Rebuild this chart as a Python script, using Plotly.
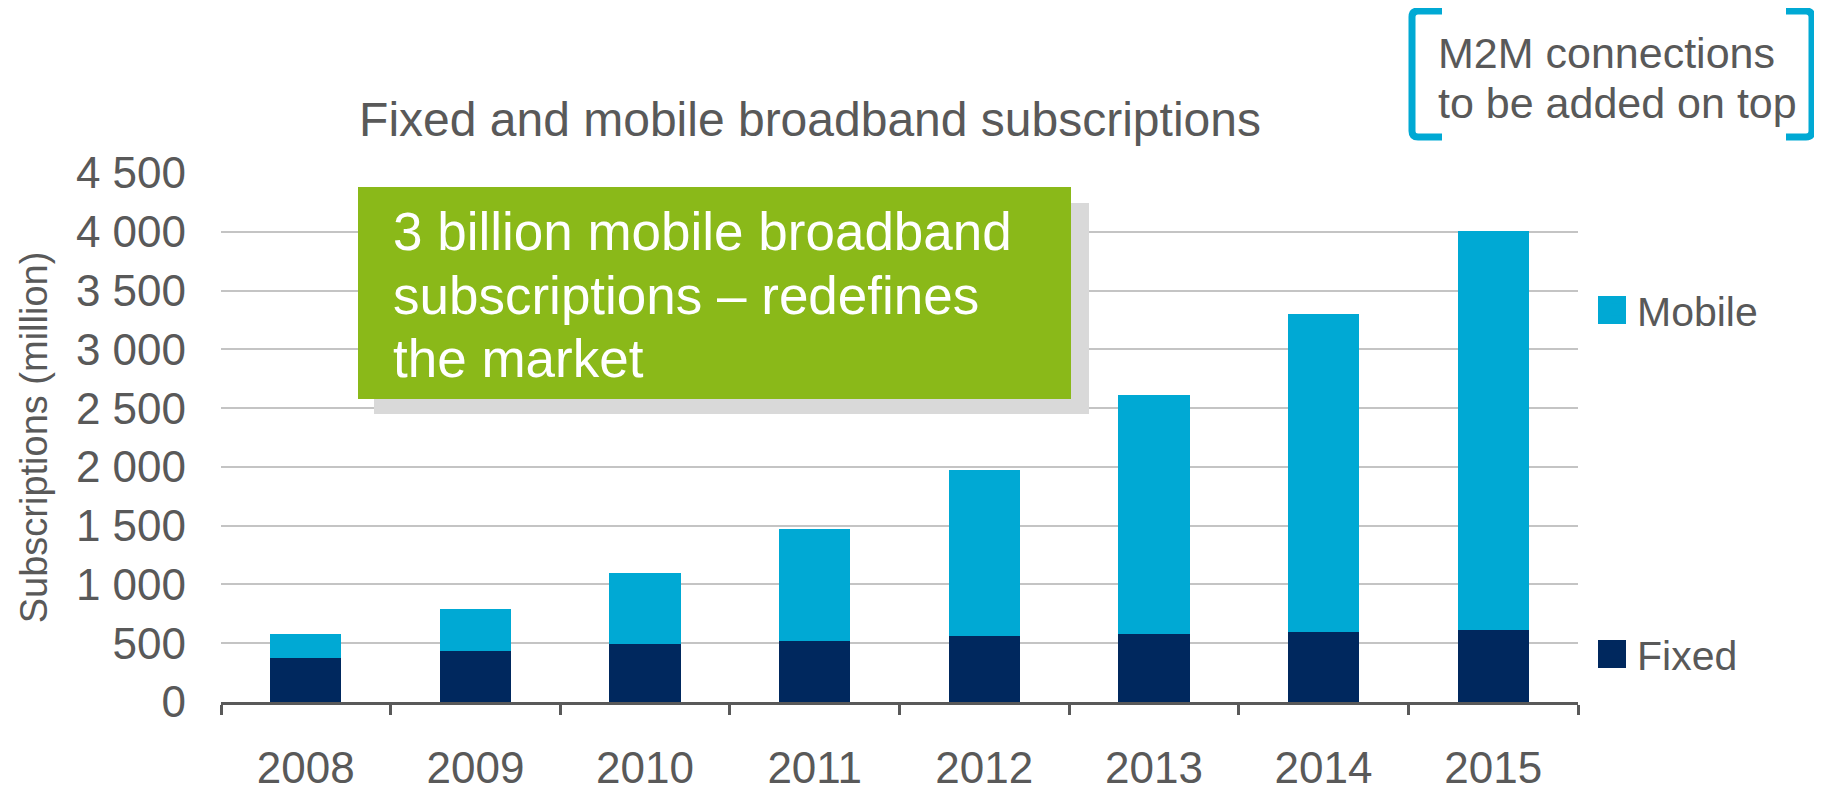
import plotly.graph_objects as go

# ---- data ----
years = ["2008", "2009", "2010", "2011", "2012", "2013", "2014", "2015"]
fixed = [375, 430, 490, 518, 560, 576, 594, 615]
mobile = [200, 365, 605, 952, 1415, 2034, 2706, 3395]
y_ticks = [0, 500, 1000, 1500, 2000, 2500, 3000, 3500, 4000, 4500]

title_text = "Fixed and mobile broadband subscriptions"
y_title = "Subscriptions (million)"
callout_lines = ["3 billion mobile broadband", "subscriptions \u2013 redefines", "the market"]
m2m_lines = ["M2M connections", "to be added on top"]

# ---- layout geometry (page pixels) ----
W, H = 1822, 787
OFF = 8  # default body margin of the html page
L, R, T, B = 221, 1578, 173, 702


def px(x):
    return (x - L) / (R - L)


def py(y):
    return (B - y) / (B - T)


GREY = "#595959"
FONT = "Liberation Sans, Arial, sans-serif"
CYAN = "#00A9D4"
NAVY = "#00285E"
GREEN = "#8AB919"

fig = go.Figure()
fig.add_trace(go.Bar(x=years, y=fixed, name="Fixed", marker_color=NAVY,
                     marker_line_width=0, legend="legend2", showlegend=True))
fig.add_trace(go.Bar(x=years, y=mobile, name="Mobile", marker_color=CYAN,
                     marker_line_width=0, legend="legend", showlegend=True))

shapes = []
# callout shadow + box
shapes.append(dict(type="rect", xref="paper", yref="paper",
                   x0=px(374), x1=px(1089), y0=py(414), y1=py(203),
                   fillcolor="#D9D9D9", line_width=0, layer="above"))
shapes.append(dict(type="rect", xref="paper", yref="paper",
                   x0=px(358), x1=px(1071), y0=py(399), y1=py(187),
                   fillcolor=GREEN, line_width=0, layer="above"))

# larger legend swatches (around the legend symbols)
for cy, col in [(310, CYAN), (654, NAVY)]:
    shapes.append(dict(type="rect", xref="paper", yref="paper",
                       x0=px(1598), x1=px(1626), y0=py(cy + 14), y1=py(cy - 14),
                       fillcolor=col, line_width=0, layer="above"))


def bracket(xv, xa, y0, y1, r=6):
    # vertical line at xv with arms reaching to xa
    s = 1 if xa > xv else -1
    return (f"M {px(xa)},{py(y0)} L {px(xv + s * r)},{py(y0)} "
            f"Q {px(xv)},{py(y0)} {px(xv)},{py(y0 + r)} "
            f"L {px(xv)},{py(y1 - r)} "
            f"Q {px(xv)},{py(y1)} {px(xv + s * r)},{py(y1)} "
            f"L {px(xa)},{py(y1)}")


shapes.append(dict(type="path", xref="paper", yref="paper",
                   path=bracket(1412, 1442, 11, 137),
                   line=dict(color=CYAN, width=7), layer="above"))
shapes.append(dict(type="path", xref="paper", yref="paper",
                   path=bracket(1812, 1786, 11, 137),
                   line=dict(color=CYAN, width=7), layer="above"))

annotations = []
for i, line in enumerate(callout_lines):
    annotations.append(dict(xref="paper", yref="paper", x=px(391), y=py(232 + 63 * i),
                            xanchor="left", yanchor="middle", showarrow=False,
                            text=line, font=dict(family=FONT, size=53, color="white")))
for i, line in enumerate(m2m_lines):
    annotations.append(dict(xref="paper", yref="paper", x=px(1436), y=py(53 + 50 * i),
                            xanchor="left", yanchor="middle", showarrow=False,
                            text=line, font=dict(family=FONT, size=43, color=GREY)))

Wd, Hd = W - OFF, H - OFF
fig.update_layout(
    width=Wd, height=Hd,
    margin=dict(l=L - OFF, r=W - R, t=T - OFF, b=H - B, pad=0, autoexpand=False),
    paper_bgcolor="white", plot_bgcolor="white",
    barmode="stack", bargap=0.58,
    separators=". ",
    showlegend=True,
    font=dict(family=FONT, color=GREY, size=44),
    title=dict(text=title_text, x=px(810), xref="paper", xanchor="center",
               y=1 - (119 - OFF) / Hd, yref="container", yanchor="middle", automargin=False,
               font=dict(family=FONT, size=48, color=GREY)),
    xaxis=dict(type="category", showline=True, linecolor=GREY, linewidth=3,
               ticks="outside", tickson="boundaries", ticklen=10, tickwidth=3,
               tickcolor=GREY, showgrid=False, zeroline=False, automargin=False,
               tickfont=dict(family=FONT, size=44, color=GREY),
               ticklabelstandoff=25),
    yaxis=dict(range=[0, 4500], tickvals=y_ticks, tickformat=",d",
               showgrid=True, gridcolor="#C4C4C4", gridwidth=2,
               zeroline=False, showline=False, ticks="", automargin=False,
               tickfont=dict(family=FONT, size=44, color=GREY),
               ticklabelstandoff=34,
               title=dict(text=y_title, font=dict(family=FONT, size=38, color=GREY),
                          standoff=16)),
    legend=dict(x=px(1597), y=py(310), xanchor="left", yanchor="middle",
                bgcolor="rgba(0,0,0,0)", font=dict(family=FONT, size=41, color=GREY)),
    legend2=dict(x=px(1597), y=py(654), xanchor="left", yanchor="middle",
                 bgcolor="rgba(0,0,0,0)", font=dict(family=FONT, size=41, color=GREY)),
    shapes=shapes,
    annotations=annotations,
)

fig.write_html("out.html")
